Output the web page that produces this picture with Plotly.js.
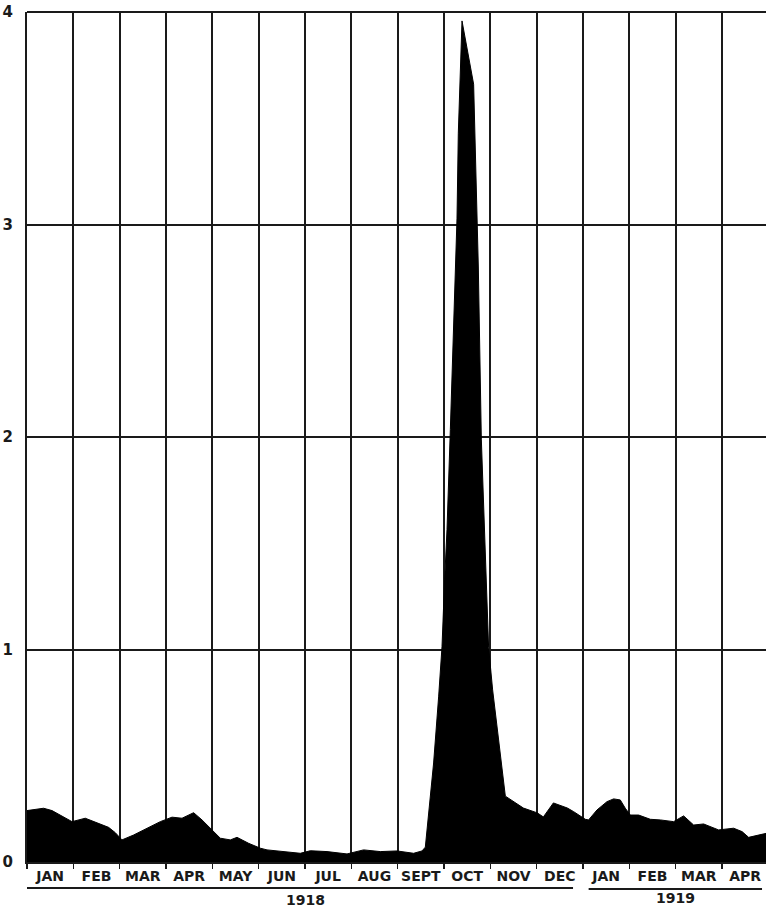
<!DOCTYPE html>
<html>
<head>
<meta charset="utf-8">
<script src="https://cdn.plot.ly/plotly-3.0.1.min.js"></script>
<style>
  html, body { margin: 0; padding: 0; background: #ffffff; }
  #chart { width: 766px; height: 909px; }
</style>
</head>
<body>
<div id="chart"></div>
<script>
// Month tick labels (Jan 1918 .. Apr 1919)
const monthLabels = ['JAN','FEB','MAR','APR','MAY','JUN','JUL','AUG','SEPT','OCT','NOV','DEC','JAN','FEB','MAR','APR'];
const yearLabels = ['1918', '1919'];
const yTicks = [0, 1, 2, 3, 4];

// Time in months since start of Jan 1918
const monthsX = [
  0.000, 0.142, 0.358, 0.540, 0.719, 0.971, 1.258, 1.511, 1.761, 1.906,
  2.050, 2.301, 2.590, 2.877, 3.130, 3.346, 3.596, 3.777, 3.993, 4.172,
  4.388, 4.533, 4.783, 5.036, 5.180, 5.539, 5.899, 6.115, 6.475, 6.907,
  7.265, 7.626, 7.986, 8.344, 8.526, 8.597, 8.776, 8.884, 8.957, 9.014,
  9.065, 9.137, 9.223, 9.281, 9.309, 9.389, 9.640, 9.741, 9.806, 9.892,
  9.963, 10.050, 10.324, 10.713, 11.015, 11.145, 11.361, 11.663, 11.798, 12.050,
  12.121, 12.302, 12.518, 12.661, 12.805, 12.913, 13.021, 13.201, 13.453, 13.669,
  13.956, 14.172, 14.388, 14.604, 14.927, 15.251, 15.433, 15.575, 15.957
];
// Rate values
const rateValues = [
  0.242, 0.245, 0.253, 0.242, 0.221, 0.190, 0.206, 0.185, 0.163, 0.138,
  0.104, 0.127, 0.159, 0.190, 0.211, 0.206, 0.232, 0.198, 0.151, 0.112,
  0.104, 0.116, 0.088, 0.065, 0.057, 0.049, 0.041, 0.053, 0.049, 0.038,
  0.057, 0.049, 0.052, 0.041, 0.052, 0.070, 0.466, 0.777, 1.013, 1.328,
  1.564, 2.035, 2.647, 3.030, 3.430, 3.958, 3.660, 2.800, 1.990, 1.410,
  1.010, 0.810, 0.310, 0.254, 0.231, 0.212, 0.278, 0.254, 0.237, 0.201,
  0.198, 0.245, 0.284, 0.297, 0.292, 0.253, 0.221, 0.221, 0.201, 0.198,
  0.190, 0.217, 0.174, 0.179, 0.151, 0.159, 0.143, 0.116, 0.135
];

const monthCenters = monthLabels.map((_, i) => i + 0.5);
const ink = '#1a1a1a';

const trace = {
  type: 'scatter',
  mode: 'lines',
  x: monthsX,
  y: rateValues,
  fill: 'tozeroy',
  fillcolor: '#000000',
  line: { color: '#000000', width: 1 },
  hoverinfo: 'skip'
};

const plotH = 850;
const py = (px) => -(px - 862) / plotH;

const layout = {
  width: 766,
  height: 909,
  margin: { l: 27, r: 0, t: 12, b: 47 },
  paper_bgcolor: '#ffffff',
  plot_bgcolor: '#ffffff',
  showlegend: false,
  font: { family: 'DejaVu Sans, sans-serif', size: 14, color: ink, weight: 'bold' },
  xaxis: {
    range: [0, 15.95],
    tickmode: 'array',
    tickvals: monthCenters,
    ticktext: monthLabels,
    ticks: '',
    showgrid: false,
    zeroline: false,
    showline: true,
    linecolor: ink,
    linewidth: 2,
    tickfont: { size: 14, weight: 'bold', color: ink },
    minor: {
      tick0: 0, dtick: 1,
      showgrid: true, gridcolor: ink, gridwidth: 2,
      ticks: 'outside', ticklen: 5, tickcolor: ink, tickwidth: 1.5
    },
    fixedrange: true
  },
  yaxis: {
    range: [0, 4],
    tickmode: 'array',
    tickvals: yTicks,
    ticktext: yTicks.map(String),
    ticks: '',
    showgrid: true,
    gridcolor: ink,
    gridwidth: 2,
    zeroline: false,
    showline: true,
    linecolor: ink,
    linewidth: 2,
    ticklabelstandoff: 9,
    tickfont: { size: 15, weight: 'bold', color: ink },
    fixedrange: true
  },
  shapes: [
    { type: 'line', xref: 'x', yref: 'paper', x0: 0, x1: 11.785, y0: py(888), y1: py(888), line: { color: ink, width: 2 } },
    { type: 'line', xref: 'x', yref: 'paper', x0: 12.122, x1: 15.864, y0: py(889), y1: py(889), line: { color: ink, width: 2 } },
    { type: 'line', xref: 'paper', yref: 'paper', x0: 0, x1: 1, y0: 1, y1: 1, line: { color: ink, width: 2 } }
  ],
  annotations: [
    { text: yearLabels[0], xref: 'x', yref: 'paper', x: 6.007, y: py(900), showarrow: false, yanchor: 'middle', font: { size: 14, weight: 'bold', color: ink } },
    { text: yearLabels[1], xref: 'x', yref: 'paper', x: 13.99, y: py(898), showarrow: false, yanchor: 'middle', font: { size: 14, weight: 'bold', color: ink } }
  ]
};

Plotly.newPlot('chart', [trace], layout, { displayModeBar: false, staticPlot: true });
</script>
</body>
</html>
